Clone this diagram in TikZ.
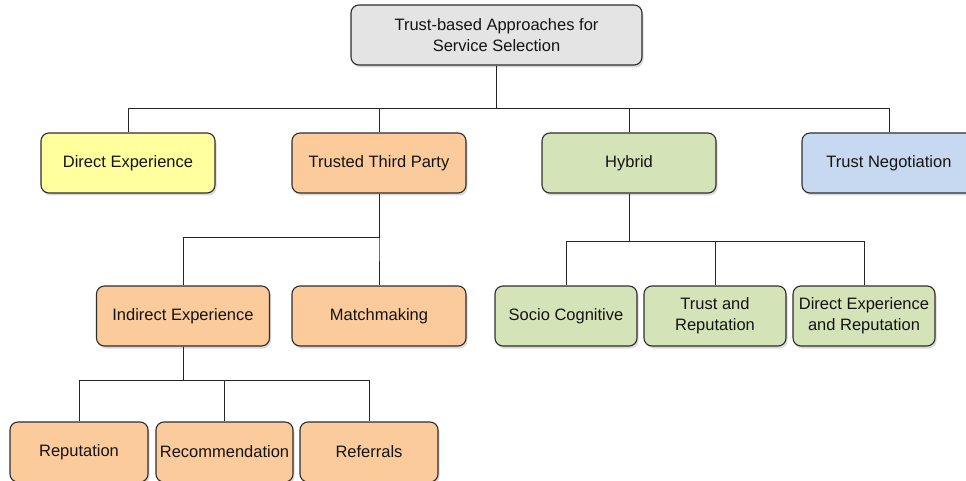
\documentclass[tikz,border=0pt]{standalone}
\usepackage{fontspec}
\setmainfont{Liberation Sans}
\usetikzlibrary{shadows}
\definecolor{boxgray}{HTML}{E4E4E4}
\definecolor{boxyellow}{HTML}{FFFF9E}
\definecolor{boxorange}{HTML}{FCCB9B}
\definecolor{boxgreen}{HTML}{D5E3B8}
\definecolor{boxblue}{HTML}{C7D9F0}
\definecolor{edge}{HTML}{2E2E2E}
\tikzset{
  box/.style={draw=edge, line width=1.1pt, rounded corners=8pt, align=center,
    minimum height=60pt, inner sep=0pt, text=black!92,
    font=\fontsize{16.5}{21}\selectfont,
    drop shadow={shadow xshift=1.5pt, shadow yshift=-2.5pt, opacity=0.3}},
  conn/.style={draw=black!85, line width=1pt},
}
\begin{document}
\begin{tikzpicture}[x=1pt,y=-1pt]
		% canvas
		\useasboundingbox (0,0) rectangle (966,481);
		\clip (0,0) rectangle (966,481);
		% root
		\node[box, fill=boxgray, minimum width=291pt] (root) at (496.5,35) {Trust-based Approaches for\\Service Selection};
		% first level
		\node[box, fill=boxyellow, minimum width=174pt] (direct) at (128,163) {Direct Experience};
		\node[box, fill=boxorange, minimum width=174pt] (third) at (379,163) {Trusted Third Party};
		\node[box, fill=boxgreen, minimum width=174pt] (hybrid) at (629,163) {Hybrid};
		\node[box, fill=boxblue, minimum width=174pt] (nego) at (889,163) {Trust Negotiation};
		% second level, third party
		\node[box, fill=boxorange, minimum width=173pt] (indirect) at (183,316) {Indirect Experience};
		\node[box, fill=boxorange, minimum width=174pt] (match) at (379,316) {Matchmaking};
		% second level, hybrid
		\node[box, fill=boxgreen, minimum width=142pt] (socio) at (566,316) {Socio Cognitive};
		\node[box, fill=boxgreen, minimum width=142pt] (trustrep) at (715,316) {Trust and\\Reputation};
		\node[box, fill=boxgreen, minimum width=142pt] (directrep) at (864,316) {Direct Experience\\and Reputation};
		% third level
		\node[box, fill=boxorange, minimum width=138pt] (rep) at (79,452) {Reputation};
		\node[box, fill=boxorange, minimum width=137pt] (recom) at (224.5,452) {Recommendation};
		\node[box, fill=boxorange, minimum width=138pt] (refer) at (369,452) {Referrals};
		% connectors
		\foreach \child in {direct, third, hybrid, nego}
			\draw[conn] (root.south) -- ++(0,43) -| (\child.north);
		\foreach \child in {indirect, match}
			\draw[conn] (third.south) -- ++(0,44) -| (\child.north);
		\foreach \child in {socio, trustrep, directrep}
			\draw[conn] (hybrid.south) -- ++(0,48) -| (\child.north);
		\foreach \child in {rep, recom, refer}
			\draw[conn] (indirect.south) -- ++(0,34) -| (\child.north);
	\end{tikzpicture}
\end{document}
